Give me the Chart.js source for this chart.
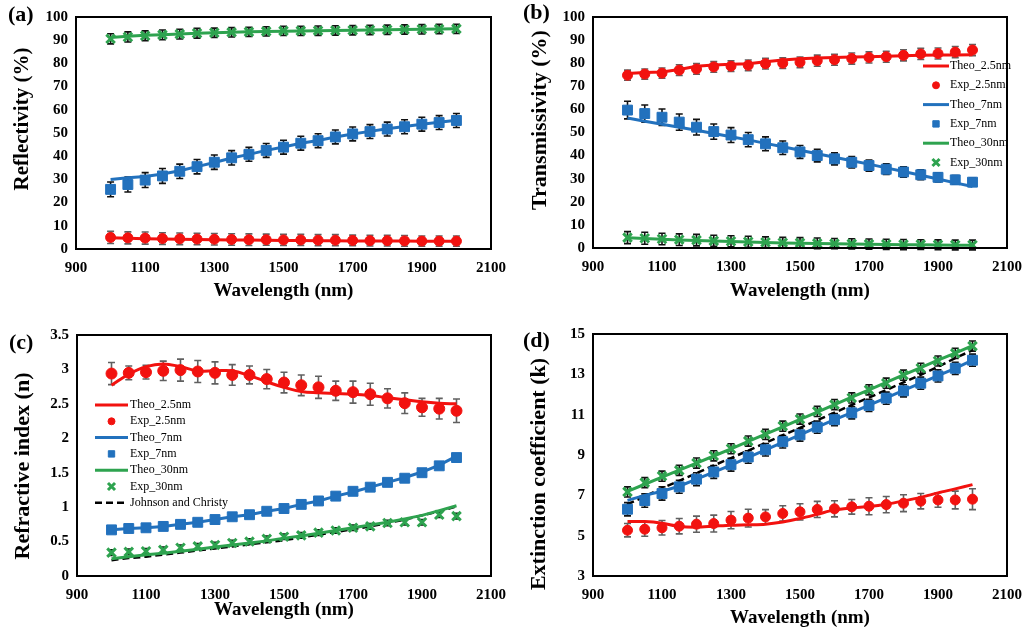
<!DOCTYPE html>
<html>
<head>
<meta charset="utf-8">
<title>Reflectivity, transmissivity and optical constants</title>
<script src="https://cdn.jsdelivr.net/npm/chart.js@4.4.1/dist/chart.umd.min.js"></script>
<style>
    body { margin: 0; background: #fff; }
    #wrap { position: relative; width: 1032px; height: 634px; }
    .panel { position: absolute; width: 516px; height: 317px; }
</style>
</head>
<body>
<div id="wrap">
    <div class="panel" style="left:0;top:0"><canvas id="chartA" width="516" height="317"></canvas></div>
    <div class="panel" style="left:516px;top:0"><canvas id="chartB" width="516" height="317"></canvas></div>
    <div class="panel" style="left:0;top:317px"><canvas id="chartC" width="516" height="317"></canvas></div>
    <div class="panel" style="left:516px;top:317px"><canvas id="chartD" width="516" height="317"></canvas></div>
</div>
<script>
// Wavelength grid (nm)
const wavelength = [1000, 1050, 1100, 1150, 1200, 1250, 1300, 1350, 1400, 1450, 1500,
                    1550, 1600, 1650, 1700, 1750, 1800, 1850, 1900, 1950, 2000];

// (a) Reflectivity (%)
const reflTheo25 = [4.8, 4.6, 4.4, 4.3, 4.2, 4.1, 4.0, 3.9, 3.9, 3.8, 3.7, 3.7, 3.6, 3.6, 3.5, 3.5, 3.4, 3.4, 3.3, 3.3, 3.3];
const reflExp25  = [5.0, 4.8, 4.7, 4.5, 4.4, 4.3, 4.2, 4.1, 4.0, 4.0, 3.9, 3.9, 3.8, 3.8, 3.7, 3.6, 3.6, 3.5, 3.4, 3.4, 3.4];
const reflErr25  = [2.6, 2.6, 2.6, 2.5, 2.5, 2.5, 2.5, 2.5, 2.5, 2.4, 2.4, 2.4, 2.4, 2.4, 2.3, 2.3, 2.3, 2.3, 2.2, 2.2, 2.2];
const reflTheo7  = [30.0, 30.7, 31.3, 32.3, 33.7, 35.5, 37.3, 39.2, 40.8, 42.5, 44.0, 45.6, 46.8, 48.3, 49.6, 50.7, 51.8, 52.8, 53.8, 54.6, 55.5];
const reflExp7   = [25.7, 27.8, 29.7, 31.5, 33.5, 35.5, 37.4, 39.3, 40.8, 42.5, 43.9, 45.6, 46.7, 48.3, 49.6, 50.6, 51.7, 52.7, 53.8, 54.5, 55.4];
const reflErr7   = [3.2, 3.2, 3.2, 3.2, 3.1, 3.1, 3.1, 3.1, 3.0, 3.0, 3.0, 3.0, 3.0, 3.0, 3.0, 3.0, 3.0, 3.0, 3.0, 3.0, 3.0];
const reflTheo30 = [91.2, 91.7, 92.1, 92.4, 92.7, 93.0, 93.2, 93.4, 93.6, 93.8, 93.9, 94.0, 94.1, 94.2, 94.3, 94.4, 94.5, 94.6, 94.7, 94.8, 94.9];
const reflExp30  = [90.6, 91.4, 91.9, 92.3, 92.6, 93.0, 93.2, 93.4, 93.6, 93.8, 94.0, 94.0, 94.1, 94.2, 94.3, 94.4, 94.5, 94.6, 94.7, 94.8, 94.9];
const reflErr30  = [2.2, 2.2, 2.1, 2.1, 2.1, 2.1, 2.0, 2.0, 2.0, 2.0, 2.0, 2.0, 2.0, 2.0, 2.0, 2.0, 2.0, 2.0, 2.0, 2.0, 2.0];

// (b) Transmissivity (%)
const tranTheo25 = [75.5, 76.0, 76.2, 77.3, 78.7, 79.2, 79.5, 79.8, 80.6, 81.4, 81.9, 82.2, 82.5, 82.7, 82.8, 83.0, 83.2, 83.4, 83.5, 83.6, 83.7];
const tranExp25  = [74.8, 75.3, 75.7, 77.0, 77.5, 78.4, 78.7, 79.1, 79.8, 80.0, 80.4, 81.1, 81.5, 82.0, 82.5, 82.8, 83.4, 84.0, 84.2, 84.8, 85.7];
const tranErr25  = [2.2, 2.2, 2.2, 2.3, 2.3, 2.3, 2.3, 2.3, 2.3, 2.3, 2.3, 2.4, 2.4, 2.4, 2.4, 2.4, 2.4, 2.4, 2.4, 2.4, 2.4];
const tranTheo7  = [56.3, 54.9, 53.6, 52.3, 51.0, 49.6, 48.2, 46.8, 45.3, 43.8, 42.3, 40.8, 39.3, 37.8, 36.3, 34.7, 33.1, 31.5, 29.9, 28.2, 26.6];
const tranExp7   = [59.7, 58.2, 56.6, 54.5, 52.3, 50.4, 48.9, 46.9, 45.1, 43.4, 41.6, 40.0, 38.6, 37.1, 35.7, 34.1, 32.9, 31.7, 30.6, 29.5, 28.5];
const tranErr7   = [3.8, 3.7, 3.6, 3.5, 3.4, 3.3, 3.2, 3.1, 3.0, 2.9, 2.8, 2.7, 2.6, 2.5, 2.4, 2.3, 2.2, 2.1, 2.0, 1.9, 1.8];
const tranTheo30 = [4.4, 4.1, 3.8, 3.5, 3.3, 3.0, 2.8, 2.6, 2.4, 2.2, 2.1, 1.9, 1.8, 1.7, 1.6, 1.5, 1.4, 1.4, 1.3, 1.2, 1.2];
const tranExp30  = [4.5, 4.2, 3.9, 3.6, 3.4, 3.1, 2.9, 2.7, 2.5, 2.3, 2.2, 2.0, 1.9, 1.8, 1.7, 1.6, 1.5, 1.5, 1.4, 1.3, 1.3];
const tranErr30  = [2.6, 2.6, 2.5, 2.5, 2.5, 2.4, 2.4, 2.4, 2.3, 2.3, 2.3, 2.3, 2.2, 2.2, 2.2, 2.2, 2.2, 2.1, 2.1, 2.1, 2.1];

// (c) Refractive index n
const nTheo25 = [2.77, 2.93, 3.04, 3.08, 3.04, 2.98, 2.98, 2.98, 2.91, 2.82, 2.74, 2.68, 2.66, 2.65, 2.64, 2.62, 2.59, 2.56, 2.53, 2.51, 2.50];
const nExp25  = [2.94, 2.95, 2.96, 2.98, 2.99, 2.97, 2.95, 2.92, 2.92, 2.86, 2.81, 2.77, 2.74, 2.69, 2.67, 2.64, 2.58, 2.51, 2.45, 2.43, 2.40];
const nErr25  = [0.16, 0.10, 0.10, 0.14, 0.16, 0.16, 0.16, 0.15, 0.13, 0.14, 0.15, 0.15, 0.16, 0.14, 0.16, 0.16, 0.14, 0.15, 0.13, 0.15, 0.17];
const nTheo7  = [0.67, 0.69, 0.70, 0.72, 0.75, 0.78, 0.82, 0.86, 0.89, 0.94, 0.98, 1.04, 1.09, 1.16, 1.22, 1.29, 1.36, 1.43, 1.51, 1.61, 1.74];
const nExp7   = [0.67, 0.69, 0.70, 0.72, 0.75, 0.78, 0.82, 0.86, 0.89, 0.94, 0.98, 1.04, 1.09, 1.16, 1.23, 1.29, 1.36, 1.42, 1.50, 1.60, 1.72];
const nErr7   = [0.05, 0.05, 0.05, 0.05, 0.05, 0.05, 0.05, 0.05, 0.05, 0.05, 0.05, 0.05, 0.05, 0.05, 0.05, 0.05, 0.05, 0.05, 0.05, 0.05, 0.05];
const nTheo30 = [0.25, 0.28, 0.31, 0.33, 0.36, 0.39, 0.42, 0.45, 0.48, 0.51, 0.55, 0.58, 0.62, 0.66, 0.70, 0.74, 0.78, 0.83, 0.88, 0.95, 1.02];
const nExp30  = [0.34, 0.35, 0.36, 0.38, 0.41, 0.43, 0.45, 0.48, 0.50, 0.54, 0.57, 0.59, 0.63, 0.66, 0.70, 0.72, 0.77, 0.78, 0.78, 0.89, 0.87];
const nErr30  = [0.04, 0.04, 0.04, 0.04, 0.04, 0.04, 0.04, 0.04, 0.04, 0.04, 0.04, 0.04, 0.04, 0.04, 0.04, 0.04, 0.04, 0.04, 0.04, 0.04, 0.04];
const nJohnsonChristy = [0.23, 0.26, 0.28, 0.31, 0.34, 0.37, 0.40, 0.43, 0.46, 0.49, 0.52, 0.56, 0.60, 0.64, 0.68, 0.72, 0.77, 0.82, 0.88, 0.94, 1.01];

// (d) Extinction coefficient k
const kTheo25 = [5.70, 5.70, 5.62, 5.46, 5.42, 5.47, 5.52, 5.54, 5.57, 5.68, 5.85, 6.06, 6.28, 6.38, 6.45, 6.56, 6.72, 6.90, 7.12, 7.32, 7.53];
const kExp25  = [5.27, 5.32, 5.39, 5.47, 5.57, 5.60, 5.77, 5.87, 5.93, 6.10, 6.18, 6.30, 6.33, 6.43, 6.46, 6.54, 6.61, 6.71, 6.77, 6.77, 6.81];
const kErr25  = [0.33, 0.35, 0.36, 0.38, 0.40, 0.42, 0.43, 0.44, 0.36, 0.38, 0.40, 0.40, 0.40, 0.36, 0.42, 0.40, 0.42, 0.38, 0.36, 0.44, 0.52];
const kTheo7  = [6.75, 7.00, 7.20, 7.45, 7.80, 8.15, 8.50, 8.88, 9.25, 9.63, 10.00, 10.38, 10.75, 11.10, 11.47, 11.83, 12.20, 12.56, 12.93, 13.30, 13.70];
const kExp7   = [6.31, 6.74, 7.09, 7.42, 7.80, 8.16, 8.52, 8.90, 9.26, 9.66, 10.00, 10.38, 10.75, 11.09, 11.46, 11.82, 12.18, 12.56, 12.92, 13.30, 13.70];
const kErr7   = [0.33, 0.33, 0.33, 0.32, 0.32, 0.32, 0.32, 0.31, 0.31, 0.31, 0.31, 0.30, 0.30, 0.30, 0.30, 0.30, 0.30, 0.30, 0.30, 0.30, 0.30];
const kTheo30 = [7.20, 7.55, 7.90, 8.25, 8.60, 8.95, 9.30, 9.67, 10.03, 10.40, 10.77, 11.13, 11.50, 11.87, 12.23, 12.60, 12.97, 13.33, 13.70, 14.05, 14.42];
const kExp30  = [7.17, 7.63, 7.95, 8.24, 8.60, 8.96, 9.31, 9.69, 10.02, 10.43, 10.78, 11.16, 11.50, 11.83, 12.23, 12.56, 12.96, 13.30, 13.66, 14.04, 14.40];
const kErr30  = [0.25, 0.25, 0.25, 0.25, 0.25, 0.25, 0.25, 0.25, 0.25, 0.25, 0.25, 0.25, 0.25, 0.25, 0.25, 0.25, 0.25, 0.25, 0.25, 0.25, 0.25];
const kJohnsonChristy = [6.55, 6.95, 7.35, 7.72, 8.10, 8.48, 8.85, 9.22, 9.60, 9.98, 10.35, 10.72, 11.10, 11.48, 11.85, 12.22, 12.60, 12.98, 13.38, 13.80, 14.20];

const RED = '#f2120f';
const BLUE = '#2271bd';
const GREEN = '#2ea34f';
const BAR_DARK = '#111111';
const BAR_GREY = '#606060';

Chart.defaults.font.family = "'Liberation Serif', 'Times New Roman', serif";
Chart.defaults.color = '#000';

function toPoints(ys) {
    return wavelength.map((x, i) => ({ x: x, y: ys[i] }));
}

function theo(label, ys, color, extra) {
    return Object.assign({
        label: label,
        data: toPoints(ys),
        showLine: true,
        borderColor: color,
        backgroundColor: color,
        borderWidth: 3,
        pointRadius: 0,
        tension: 0,
        order: 2
    }, extra || {});
}

function exp(label, ys, errs, color, style, barColor, radius) {
    const isCross = style === 'crossRot';
    return {
        label: label,
        data: toPoints(ys),
        showLine: false,
        pointStyle: style,
        pointRadius: radius,
        pointBorderWidth: isCross ? 3 : 1,
        borderColor: color,
        backgroundColor: color,
        legendRadius: style === 'rect' ? 4.5 : (isCross ? 5 : 3.5),
        errors: errs,
        errorColor: barColor,
        order: 1
    };
}

// Vertical error bars with caps, drawn under the markers
const errorBars = {
    id: 'errorBars',
    beforeDatasetsDraw(chart) {
        const { ctx, scales: { x, y } } = chart;
        chart.data.datasets.forEach((ds) => {
            if (!ds.errors) return;
            ctx.save();
            ctx.strokeStyle = ds.errorColor;
            ctx.lineWidth = 1.6;
            ds.data.forEach((p, j) => {
                const px = x.getPixelForValue(p.x);
                const top = y.getPixelForValue(p.y + ds.errors[j]);
                const bot = y.getPixelForValue(p.y - ds.errors[j]);
                ctx.beginPath();
                ctx.moveTo(px, top); ctx.lineTo(px, bot);
                ctx.moveTo(px - 3.5, top); ctx.lineTo(px + 3.5, top);
                ctx.moveTo(px - 3.5, bot); ctx.lineTo(px + 3.5, bot);
                ctx.stroke();
            });
            ctx.restore();
        });
    }
};

// Black box around the plot area
const frame = {
    id: 'frame',
    afterDraw(chart) {
        const { ctx, chartArea: a } = chart;
        ctx.save();
        ctx.strokeStyle = '#000';
        ctx.lineWidth = 2;
        ctx.strokeRect(a.left, a.top, a.right - a.left, a.bottom - a.top);
        ctx.restore();
    }
};

// Legend placed inside the plot area
const insideLegend = {
    id: 'insideLegend',
    afterDraw(chart, args, opts) {
        if (!opts || opts.x === undefined) return;
        const ctx = chart.ctx;
        ctx.save();
        ctx.font = opts.fontSize + "px 'Liberation Serif', serif";
        ctx.textBaseline = 'middle';
        chart.data.datasets.forEach((ds, i) => {
            const y = opts.y + i * opts.rowGap;
            const x0 = opts.x;
            const x1 = opts.x + opts.lineLength;
            if (ds.showLine) {
                ctx.strokeStyle = ds.borderColor;
                ctx.lineWidth = ds.borderWidth;
                ctx.setLineDash(ds.borderDash || []);
                ctx.beginPath();
                ctx.moveTo(x0, y);
                ctx.lineTo(x1, y);
                ctx.stroke();
                ctx.setLineDash([]);
            } else {
                ctx.fillStyle = ds.backgroundColor;
                ctx.strokeStyle = ds.borderColor;
                ctx.lineWidth = ds.pointBorderWidth;
                Chart.helpers.drawPoint(ctx, {
                    pointStyle: ds.pointStyle,
                    radius: ds.legendRadius,
                    borderWidth: ds.pointBorderWidth,
                    rotation: 0
                }, (x0 + x1) / 2, y);
            }
            ctx.fillStyle = '#000';
            ctx.fillText(ds.label, x1 + opts.textGap, y);
        });
        ctx.restore();
    }
};

// "(a)", "(b)" ... panel tags and the rotated y-axis title
const panelText = {
    id: 'panelText',
    afterDraw(chart, args, opts) {
        const ctx = chart.ctx;
        ctx.save();
        ctx.fillStyle = '#000';
        ctx.textBaseline = 'middle';
        ctx.font = "bold 22px 'Liberation Serif', serif";
        ctx.fillText(opts.tag, opts.tagX, opts.tagY);
        ctx.translate(opts.titleX, opts.titleY);
        ctx.rotate(-Math.PI / 2);
        ctx.textAlign = 'center';
        ctx.font = 'bold ' + opts.titleSize + "px 'Liberation Serif', serif";
        ctx.fillText(opts.title, 0, 0);
        ctx.restore();
    }
};

function makePanel(canvasId, p) {
    const numFmt = (v) => String(+v.toFixed(2));
    new Chart(document.getElementById(canvasId), {
        type: 'scatter',
        data: { datasets: p.datasets },
        options: {
            responsive: false,
            animation: false,
            layout: { padding: { left: 0, top: p.area.top, right: 516 - p.area.right, bottom: 0 } },
            plugins: {
                legend: { display: false },
                tooltip: { enabled: false },
                insideLegend: p.legend || {},
                panelText: p.text
            },
            scales: {
                x: {
                    type: 'linear',
                    min: 900,
                    max: 2100,
                    grid: { display: false, drawTicks: false },
                    border: { display: false },
                    ticks: {
                        stepSize: 200, autoSkip: false, maxRotation: 0, padding: 10,
                        color: '#000', font: { size: 15, weight: 'bold' }, callback: numFmt
                    },
                    title: {
                        display: true, text: 'Wavelength (nm)', color: '#000',
                        font: { size: 19, weight: 'bold' },
                        padding: { top: 0, bottom: p.xTitlePad }
                    },
                    afterFit: (s) => { s.height = 317 - p.area.bottom; }
                },
                y: {
                    min: p.yMin,
                    max: p.yMax,
                    grid: { display: false, drawTicks: false },
                    border: { display: false },
                    ticks: {
                        stepSize: p.yStep, padding: 8,
                        color: '#000', font: { size: 15, weight: 'bold' }, callback: numFmt
                    },
                    afterFit: (s) => { s.width = p.area.left; }
                }
            }
        },
        plugins: [errorBars, frame, insideLegend, panelText]
    });
}

// (a)
makePanel('chartA', {
    area: { left: 76, top: 13, right: 493, bottom: 249 },
    yMin: 0, yMax: 100, yStep: 10,
    xTitlePad: 15,
    text: { tag: '(a)', tagX: 8, tagY: 15, title: 'Reflectivity (%)', titleX: 23, titleY: 119, titleSize: 21 },
    datasets: [
        theo('Theo_2.5nm', reflTheo25, RED),
        exp('Exp_2.5nm', reflExp25, reflErr25, RED, 'circle', BAR_GREY, 5),
        theo('Theo_7nm', reflTheo7, BLUE),
        exp('Exp_7nm', reflExp7, reflErr7, BLUE, 'rect', BAR_DARK, 7),
        theo('Theo_30nm', reflTheo30, GREEN),
        exp('Exp_30nm', reflExp30, reflErr30, GREEN, 'crossRot', BAR_DARK, 6)
    ]
});

// (b)
makePanel('chartB', {
    area: { left: 77, top: 11, right: 499, bottom: 248 },
    yMin: 0, yMax: 100, yStep: 10,
    xTitlePad: 15,
    text: { tag: '(b)', tagX: 7, tagY: 13, title: 'Transmissivity (%)', titleX: 24, titleY: 120, titleSize: 22 },
    legend: { x: 407, y: 66, rowGap: 19.3, lineLength: 26, textGap: 1, fontSize: 12 },
    datasets: [
        theo('Theo_2.5nm', tranTheo25, RED),
        exp('Exp_2.5nm', tranExp25, tranErr25, RED, 'circle', BAR_GREY, 5),
        theo('Theo_7nm', tranTheo7, BLUE),
        exp('Exp_7nm', tranExp7, tranErr7, BLUE, 'rect', BAR_DARK, 7),
        theo('Theo_30nm', tranTheo30, GREEN),
        exp('Exp_30nm', tranExp30, tranErr30, GREEN, 'crossRot', BAR_DARK, 6)
    ]
});

// (c)
makePanel('chartC', {
    area: { left: 77, top: 18, right: 496, bottom: 259 },
    yMin: 0, yMax: 3.5, yStep: 0.5,
    xTitlePad: 13,
    text: { tag: '(c)', tagX: 9, tagY: 26, title: 'Refractive index (n)', titleX: 23, titleY: 149, titleSize: 22 },
    legend: { x: 95, y: 88, rowGap: 16.3, lineLength: 33, textGap: 2, fontSize: 12 },
    datasets: [
        theo('Theo_2.5nm', nTheo25, RED, { tension: 0.4 }),
        exp('Exp_2.5nm', nExp25, nErr25, RED, 'circle', BAR_GREY, 5.5),
        theo('Theo_7nm', nTheo7, BLUE),
        exp('Exp_7nm', nExp7, nErr7, BLUE, 'rect', BAR_DARK, 7),
        theo('Theo_30nm', nTheo30, GREEN),
        exp('Exp_30nm', nExp30, nErr30, GREEN, 'crossRot', BAR_DARK, 6),
        theo('Johnson and Christy', nJohnsonChristy, '#000', { borderWidth: 2.5, borderDash: [7, 4], order: 3 })
    ]
});

// (d)
makePanel('chartD', {
    area: { left: 77, top: 17, right: 498, bottom: 259 },
    yMin: 3, yMax: 15, yStep: 2,
    xTitlePad: 5,
    text: { tag: '(d)', tagX: 7, tagY: 24, title: 'Extinction coefficient (k)', titleX: 23, titleY: 157, titleSize: 22 },
    datasets: [
        theo('Theo_2.5nm', kTheo25, RED, { tension: 0.3 }),
        exp('Exp_2.5nm', kExp25, kErr25, RED, 'circle', BAR_GREY, 5),
        theo('Theo_7nm', kTheo7, BLUE),
        exp('Exp_7nm', kExp7, kErr7, BLUE, 'rect', BAR_DARK, 7),
        theo('Theo_30nm', kTheo30, GREEN),
        exp('Exp_30nm', kExp30, kErr30, GREEN, 'crossRot', BAR_DARK, 6),
        theo('Johnson and Christy', kJohnsonChristy, '#000', { borderWidth: 2.5, borderDash: [7, 4], order: 3 })
    ]
});
</script>
</body>
</html>
